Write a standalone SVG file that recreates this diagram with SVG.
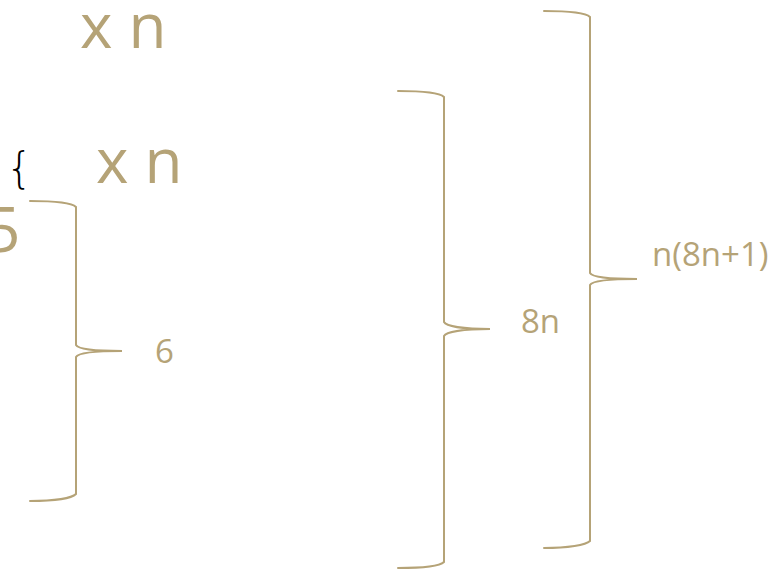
<svg xmlns="http://www.w3.org/2000/svg" width="781" height="569" viewBox="0 0 781 569">
  <style>
    .brace { fill: none; stroke: #b5a377; stroke-width: 2; stroke-linecap: round; }
    .big { font-family: "Open Sans", "Noto Sans", sans-serif; font-size: 62px; fill: #b5a377; }
    .lbl { font-family: "Open Sans", "Noto Sans", sans-serif; font-size: 33px; fill: #b5a377; }
    .mark { font-family: "DejaVu Sans", "Liberation Sans", sans-serif; font-weight: 200; font-size: 42px; fill: #000; }
  </style>
  <rect width="781" height="569" fill="#fff"/>

  <!-- multiplier and fragment texts -->
  <g id="times-top"><text class="big" x="80" y="48">x n</text></g>
  <g id="times-mid"><text class="big" x="96" y="183">x n</text></g>
  <g id="five"><text class="big" x="-15" y="252">5</text></g>
  <g id="open-brace"><text class="mark" x="6" y="183">{</text></g>

  <!-- curly brackets -->
  <g id="connectors">
    <path class="brace" d="M30,201 C55,201 72,203 76,207 L76,345 C78,349 95,351 122,351 C95,351 78,353 76,357 L76,494 C72,498 55,501 30,501"/>
    <path class="brace" d="M398,91 C422,91 440,93 444,97 L444,322 C446,326 463,329 490,329 C463,329 446,332 444,336 L444,562 C440,566 422,568 398,568"/>
    <path class="brace" d="M544,11 C568,11 586,13 590,17 L590,273 C592,277 610,279 637,279 C610,279 592,281 590,285 L590,541 C586,545 568,548 544,548"/>
  </g>

  <!-- bracket labels -->
  <g id="label-6"><text class="lbl" x="155" y="363">6</text></g>
  <g id="label-8n"><text class="lbl" x="521" y="333">8n</text></g>
  <g id="label-n8n1"><text class="lbl" x="652" y="266">n(8n+1)</text></g>
</svg>
